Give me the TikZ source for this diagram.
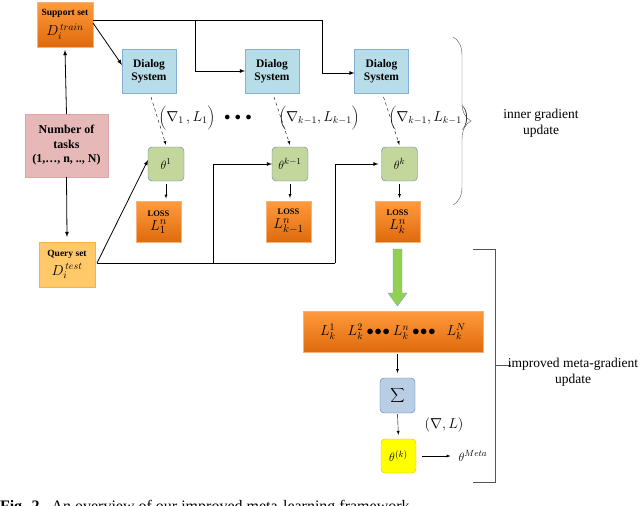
\documentclass[tikz,border=0pt]{standalone}
\usepackage{fontspec}
\setmainfont{Liberation Serif}
\usetikzlibrary{decorations.pathreplacing}

\definecolor{lossTop}{HTML}{FF9B3D}
\definecolor{lossBot}{HTML}{DF6A0C}
\definecolor{lossLine}{HTML}{F7B27A}
\definecolor{dlgFill}{HTML}{B7DEE8}
\definecolor{dlgLine}{HTML}{86AFD4}
\definecolor{numFill}{HTML}{E6B9B8}
\definecolor{numLine}{HTML}{DDA5A4}
\definecolor{thFill}{HTML}{C3D69B}
\definecolor{thLine}{HTML}{5B82B5}
\definecolor{qryFill}{HTML}{FFC869}
\definecolor{qryLine}{HTML}{F5B24A}
\definecolor{sumFill}{HTML}{B9CDE5}
\definecolor{sumLine}{HTML}{4F76A8}
\definecolor{metaFill}{HTML}{FFFF00}
\definecolor{metaLine}{HTML}{F0B400}
\definecolor{arrFill}{HTML}{92D050}
\definecolor{arrLine}{HTML}{7E9CC8}
\definecolor{bracket}{HTML}{555555}

\begin{document}
\begin{tikzpicture}[x=1pt, y=-1pt]
\tikzset{ >=latex, inner sep=0pt, outer sep=0pt,
  orangebox/.style={shading=axis, top color=lossTop, bottom color=lossBot, draw=lossLine, align=center},
  dlgbox/.style={fill=dlgFill, draw=dlgLine, minimum width=54pt, minimum height=44pt, align=center,
    font=\fontsize{11.5}{13}\selectfont\bfseries},
  thbox/.style={fill=thFill, draw=thLine, rounded corners=4pt, minimum width=36pt, minimum height=34pt,
    font=\fontsize{13}{14}\selectfont},
  lossbox/.style={orangebox, minimum width=45pt, minimum height=41pt},
  link/.style={thick, ->},
  grad/.style={font=\fontsize{14}{16}\selectfont},
  note/.style={align=center, font=\fontsize{13.5}{16.5}\selectfont},
}

\useasboundingbox (0,0) rectangle (640,506);

% left column
\node [orangebox, minimum width=56pt, minimum height=45pt] (sup) at (65,24.5)
  {{\fontsize{9.5}{10}\selectfont\bfseries Support set}\\[5pt]{\fontsize{14}{14}\selectfont $D_i^{\,train}$}};
\node [fill=numFill, draw=numLine, minimum width=83pt, minimum height=63pt, align=center,
  font=\fontsize{12}{14.5}\selectfont\bfseries] (num) at (66.5,145.5)
  {Number of\\ tasks\\ (1,\dots, n, .., N)};
\node [fill=qryFill, draw=qryLine, minimum width=56pt, minimum height=45pt, align=center] (qry) at (67,264.5)
  {{\fontsize{9.5}{10}\selectfont\bfseries Query set}\\[4pt]{\fontsize{14}{14}\selectfont $D_i^{\,test}$}};

% dialog systems
\node [dlgbox] (dlg1) at (149,71)   {Dialog\\ System};
\node [dlgbox] (dlg2) at (272,71)   {Dialog\\ System};
\node [dlgbox] (dlg3) at (381.5,71) {Dialog\\ System};

% parameters
\node [thbox] (th1) at (166,164)   {$\theta^{1}$};
\node [thbox] (th2) at (290,164)   {$\theta^{k-1}$};
\node [thbox] (th3) at (399.5,164) {$\theta^{k}$};

% losses
\node [lossbox] (loss1) at (158.5,222) {{\fontsize{8.5}{9}\selectfont\bfseries LOSS}\\[2pt]{\fontsize{15}{15}\selectfont $L_1^{n}$}};
\node [lossbox] (loss2) at (288.5,221.5) {{\fontsize{8.5}{9}\selectfont\bfseries LOSS}\\[2pt]{\fontsize{15}{15}\selectfont $L_{k-1}^{n}$}};
\node [lossbox] (loss3) at (397.5,221.5) {{\fontsize{8.5}{9}\selectfont\bfseries LOSS}\\[2pt]{\fontsize{15}{15}\selectfont $L_k^{n}$}};

\node [grad] (g1) at (187,118) {$\bigg(\nabla_{1}\,, L_{1}\bigg)$};
\node [font=\fontsize{13}{13}\selectfont] (dots) at (238,118) {$\bullet\,\bullet\,\bullet$};
\node [grad] (g2) at (319,118) {$\bigg(\nabla_{k-1}, L_{k-1}\bigg)$};
\node [grad] (g3) at (429,118) {$\bigg(\nabla_{k-1}, L_{k-1}\bigg)$};

% meta part
\node [orangebox, minimum width=180pt, minimum height=41pt, font=\fontsize{14}{14}\selectfont] (all) at (393,331.5)
  {$L_k^{1}\;\;\; L_k^{2}\bullet\!\bullet\!\bullet L_k^{n}\bullet\!\bullet\!\bullet\;\; L_k^{N}$};
\node [fill=sumFill, draw=sumLine, rounded corners=4pt, minimum width=35pt, minimum height=35pt,
  font=\fontsize{15}{15}\selectfont] (sum) at (397.5,395.5) {$\displaystyle\sum$};
\node [fill=metaFill, draw=metaLine, rounded corners=4pt, minimum width=35pt, minimum height=34pt,
  font=\fontsize{13}{14}\selectfont] (thk) at (398.5,456) {$\theta^{(k)}$};
\node [font=\fontsize{13}{14}\selectfont] (meta) at (473,456) {$\theta^{Meta}$};
\node [grad] (g4) at (444,425) {$\Big(\nabla, L\Big)$};

% connectors
\coordinate (j1) at (195,20);
\coordinate (j2) at (322,20);
\draw [thick] ([yshift=4.5pt]sup.east) -- (j2);
\draw [link] (j1) |- (dlg2.west);
\draw [link] (j2) |- ([yshift=-2pt]dlg3.west);
\draw [link] ([yshift=1.5pt]sup.east) -- ([yshift=6pt]dlg1.west);

\draw [link] (num.north) -- ([yshift=-3pt]sup.south);
\draw [link] (num.south) -- ([yshift=5pt]qry.north);

\draw [link, thin, dashed] ([xshift=2pt,yshift=-4pt]dlg1.south) -- ([yshift=2pt]th1.north);
\draw [link, thin, dashed] ([xshift=2pt,yshift=-4pt]dlg2.south) -- ([yshift=2pt]th2.north);
\draw [link, thin, dashed] ([xshift=2pt,yshift=-4pt]dlg3.south) -- ([yshift=2pt]th3.north);

\draw [->, shorten <=3pt, shorten >=3pt] (th1.south) -- (th1.south |- loss1.north);
\draw [->, shorten <=3pt, shorten >=3pt] (th2.south) -- (th2.south |- loss2.north);
\draw [->, shorten <=3pt, shorten >=3pt] (th3.south) -- (th3.south |- loss3.north);

\draw [link] ([xshift=2pt,yshift=1.5pt]qry.east) -- ([yshift=4pt]th1.west);
\draw [thick] ([xshift=2pt,yshift=1.5pt]qry.east) -- ++(238,0) coordinate (j4);
\draw [link] ([xshift=2pt,yshift=1.5pt]qry.east) ++(116,0) |- (th2.west);
\draw [link] (j4) |- ([xshift=-3pt]th3.west);

% block arrow
\draw [fill=arrFill, draw=arrLine] ([yshift=-7pt]loss3.south) ++(-4.5,0) -- ++(9,0) -- ++(0,44) -- ++(5,0)
  -- ++(-9.5,13) -- ++(-9.5,-13) -- ++(5,0) -- cycle;

\draw [->, shorten <=2pt, shorten >=5pt] (sum.north |- all.south) -- (sum.north);
\draw [->, shorten <=1pt, shorten >=4pt] (sum.south) -- (thk.north);
\draw [->, shorten <=6pt, shorten >=8pt] (thk.east) -- (meta.west);

% braces
\draw [bracket, decorate, decoration={brace, amplitude=18pt}] (453,37) -- (453,205);
\node [note] (inner) at (541,123.5) {inner gradient\\ update};
\draw [bracket] (473,249) -- (495,249) -- (495,482) -- (473,482);
\draw [bracket] (495,365.5) -- (511,365.5);
\node [note] (outer) at (573,372) {improved meta-gradient\\ update};

\node [anchor=base west, font=\fontsize{16}{18}\selectfont] (cap) at (0,511)
  {\textbf{Fig. 2.}\hspace{0.5em}An overview of our improved meta-learning framework.};
\end{tikzpicture}
\end{document}
